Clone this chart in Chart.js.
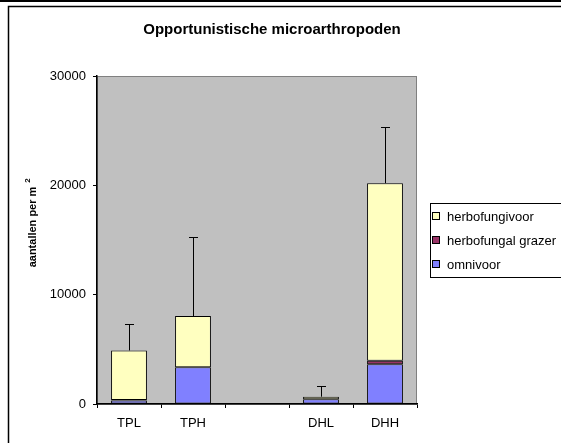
<!DOCTYPE html>
<html>
<head>
<meta charset="utf-8">
<script src="https://cdn.jsdelivr.net/npm/chart.js@4"></script>
<style>
  html, body { margin: 0; padding: 0; background: #fff; }
  #wrap { width: 561px; height: 443px; position: relative; }
</style>
</head>
<body>
<div id="wrap"><canvas id="chart"></canvas></div>
<script>
const categories = ['TPL', 'TPH', '', 'DHL', 'DHH'];
const omnivoor = [330, 3350, null, 430, 3630];
const herbofungalGrazer = [30, 20, null, 10, 330];
const herbofungivoor = [4540, 4680, null, 230, 16240];
const errorPlus = [2400, 7200, null, 1000, 5150];
const yTicks = [0, 10000, 20000, 30000];

const chartTitle = 'Opportunistische microarthropoden';
const yTitle = 'aantallen per m';
const FONT = '"Liberation Sans", Arial, sans-serif';

// background of plot area + outer frame
const plotBackground = {
    id: 'plotBackground',
    beforeDraw(chart) {
        const { ctx, chartArea: a } = chart;
        ctx.save();
        ctx.fillStyle = '#fff';
        ctx.fillRect(0, 0, chart.width, chart.height);
        // frame
        ctx.strokeStyle = '#000';
        ctx.lineWidth = 2;
        ctx.beginPath();
        ctx.moveTo(0, 1); ctx.lineTo(chart.width, 1);
        ctx.stroke();
        ctx.lineWidth = 1.5;
        ctx.beginPath();
        ctx.moveTo(8.5, chart.height + 2); ctx.lineTo(8.5, 6.5); ctx.lineTo(chart.width + 2, 6.5);
        ctx.stroke();
        // plot area
        ctx.fillStyle = '#c0c0c0';
        ctx.fillRect(a.left, a.top, a.right - a.left, a.bottom - a.top);
        ctx.strokeStyle = '#808080';
        ctx.lineWidth = 1;
        ctx.strokeRect(a.left + 0.5, a.top + 0.5, a.right - a.left - 1, a.bottom - a.top);
        ctx.restore();
    }
};

// plus error bars, title, y title, legend
const extras = {
    id: 'extras',
    afterDatasetsDraw(chart) {
        const { ctx } = chart;
        const x = chart.scales.x, y = chart.scales.y;
        ctx.save();
        ctx.strokeStyle = '#000';
        ctx.lineWidth = 1;
        errorPlus.forEach((e, i) => {
            if (e == null) return;
            const total = (omnivoor[i] || 0) + (herbofungalGrazer[i] || 0) + (herbofungivoor[i] || 0);
            const px = Math.round(x.getPixelForValue(i)) + 0.5;
            const y0 = y.getPixelForValue(total);
            const y1 = Math.round(y.getPixelForValue(total + e)) + 0.5;
            ctx.beginPath();
            ctx.moveTo(px, y0); ctx.lineTo(px, y1);
            ctx.moveTo(px - 4.5, y1); ctx.lineTo(px + 4.5, y1);
            ctx.stroke();
        });

        ctx.fillStyle = '#000';
        ctx.font = 'bold 15px ' + FONT;
        ctx.textAlign = 'center';
        ctx.textBaseline = 'middle';
        ctx.fillText(chartTitle, 272, 30);

        // y axis title
        ctx.save();
        ctx.translate(33, 227);
        ctx.rotate(-Math.PI / 2);
        ctx.font = 'bold 11px ' + FONT;
        ctx.textAlign = 'center';
        ctx.fillText(yTitle, 0, 0);
        const w = ctx.measureText(yTitle).width;
        ctx.font = 'bold 8px ' + FONT;
        ctx.textAlign = 'left';
        ctx.fillText('2', w / 2 + 4, -5);
        ctx.restore();

        // legend (reversed like the stack)
        ctx.lineWidth = 1;
        ctx.strokeRect(430.5, 203.5, 140, 74);
        ctx.font = '13px ' + FONT;
        ctx.textAlign = 'left';
        const items = chart.data.datasets.slice().reverse();
        items.forEach((ds, k) => {
            const cy = 216 + k * 24;
            ctx.fillStyle = ds.backgroundColor;
            ctx.fillRect(432.5, cy - 3.5, 7, 7);
            ctx.strokeRect(432.5, cy - 3.5, 7, 7);
            ctx.fillStyle = '#000';
            ctx.fillText(ds.label, 447, cy + 1);
        });
        ctx.restore();
    }
};

new Chart(document.getElementById('chart'), {
    type: 'bar',
    data: {
        labels: categories,
        datasets: [
            { label: 'omnivoor', data: omnivoor, backgroundColor: '#8080ff' },
            { label: 'herbofungal grazer', data: herbofungalGrazer, backgroundColor: '#993366' },
            { label: 'herbofungivoor', data: herbofungivoor, backgroundColor: '#ffffc0' }
        ].map(d => Object.assign(d, {
            borderColor: '#000',
            borderWidth: 1,
            borderSkipped: false,
            categoryPercentage: 1,
            barPercentage: 0.56
        }))
    },
    options: {
        responsive: true,
        maintainAspectRatio: false,
        animation: false,
        layout: { padding: { left: 0, top: 76, right: 144, bottom: 0 } },
        plugins: {
            legend: { display: false },
            title: { display: false },
            tooltip: { enabled: false }
        },
        scales: {
            x: {
                stacked: true,
                offset: true,
                grid: { display: true, drawOnChartArea: false, offset: true, color: '#000', tickLength: 4 },
                border: { color: '#000', width: 1.5 },
                ticks: { color: '#000', font: { family: FONT, size: 13 }, padding: 8 },
                afterFit(scale) { scale.height = 39; }
            },
            y: {
                stacked: true,
                min: 0,
                max: 30000,
                afterBuildTicks(scale) { scale.ticks = yTicks.map(v => ({ value: v })); },
                grid: { display: true, drawOnChartArea: false, color: '#000', tickLength: 4 },
                border: { color: '#000', width: 1.5 },
                ticks: {
                    color: '#000',
                    font: { family: FONT, size: 13 },
                    padding: 7,
                    callback: v => String(v)
                },
                afterFit(scale) { scale.width = 97; }
            }
        }
    },
    plugins: [plotBackground, extras]
});
</script>
</body>
</html>
